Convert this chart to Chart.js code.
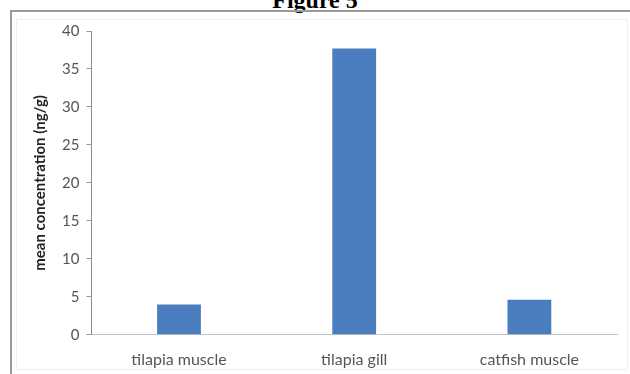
<!DOCTYPE html>
<html>
<head>
<meta charset="utf-8">
<script src="https://cdn.jsdelivr.net/npm/chart.js@4"></script>
<style>
  body { margin: 0; background: #fff; }
  #page { position: relative; width: 630px; height: 374px; overflow: hidden; }
  #caption {
    position: absolute; left: 0; width: 630px; top: -12px;
    text-align: center; font: bold 24px "Liberation Serif", serif; line-height: 24px;
  }
  #frame {
    position: absolute; left: 10px; top: 10px; width: 640px; height: 380px;
    border-top: 2px solid #9a9a9a; border-left: 2px solid #9a9a9a;
  }
  #inner {
    position: absolute; left: 16px; top: 19px; width: 610px; height: 349px;
    border: 1px solid #eeeeee;
  }
  #chart-box { position: absolute; left: 0; top: 0; width: 630px; height: 392px; }
</style>
</head>
<body>
<div id="page">
  <div id="caption">Figure 5</div>
  <div id="frame"></div>
  <div id="inner"></div>
  <div id="chart-box"><canvas id="chart"></canvas></div>
</div>
<script>
// sample groups and their mean concentrations (ng/g)
const samples = ['tilapia muscle', 'tilapia gill', 'catfish muscle'];
const meanConc = [4.0, 37.7, 4.6];
const yTicks = [0, 5, 10, 15, 20, 25, 30, 35, 40];

const ctx = document.getElementById('chart').getContext('2d');

new Chart(ctx, {
    type: 'bar',
    data: {
        labels: samples,
        datasets: [{
            label: 'mean concentration',
            data: meanConc,
            backgroundColor: '#4a7ebf',
            borderWidth: 0,
            categoryPercentage: 1,
            barPercentage: 0.25
        }]
    },
    options: {
        responsive: true,
        maintainAspectRatio: false,
        animation: false,
        layout: { padding: { left: 31, right: 13, top: 31, bottom: 8 } },
        plugins: {
            legend: { display: false },
            tooltip: { enabled: false }
        },
        scales: {
            x: {
                grid: { display: false, drawTicks: false },
                border: { color: '#c4c4c4', width: 1 },
                ticks: {
                    color: '#555',
                    padding: 15,
                    font: { family: 'Lato', size: 16 }
                }
            },
            y: {
                min: 0,
                max: 40,
                afterBuildTicks: (axis) => {
                    axis.ticks = yTicks.map(v => ({ value: v }));
                },
                grid: { drawOnChartArea: false, drawTicks: true, tickLength: 5, color: '#9a9a9a' },
                border: { color: '#8c8c8c', width: 1 },
                ticks: {
                    color: '#555',
                    padding: 7,
                    font: { family: 'Lato', size: 15 }
                },
                title: {
                    display: true,
                    text: 'mean concentration (ng/g)',
                    color: '#222',
                    font: { family: 'Lato', size: 15, weight: 'bold' },
                    padding: { top: 0, bottom: 6 }
                }
            }
        }
    }
});
</script>
</body>
</html>
